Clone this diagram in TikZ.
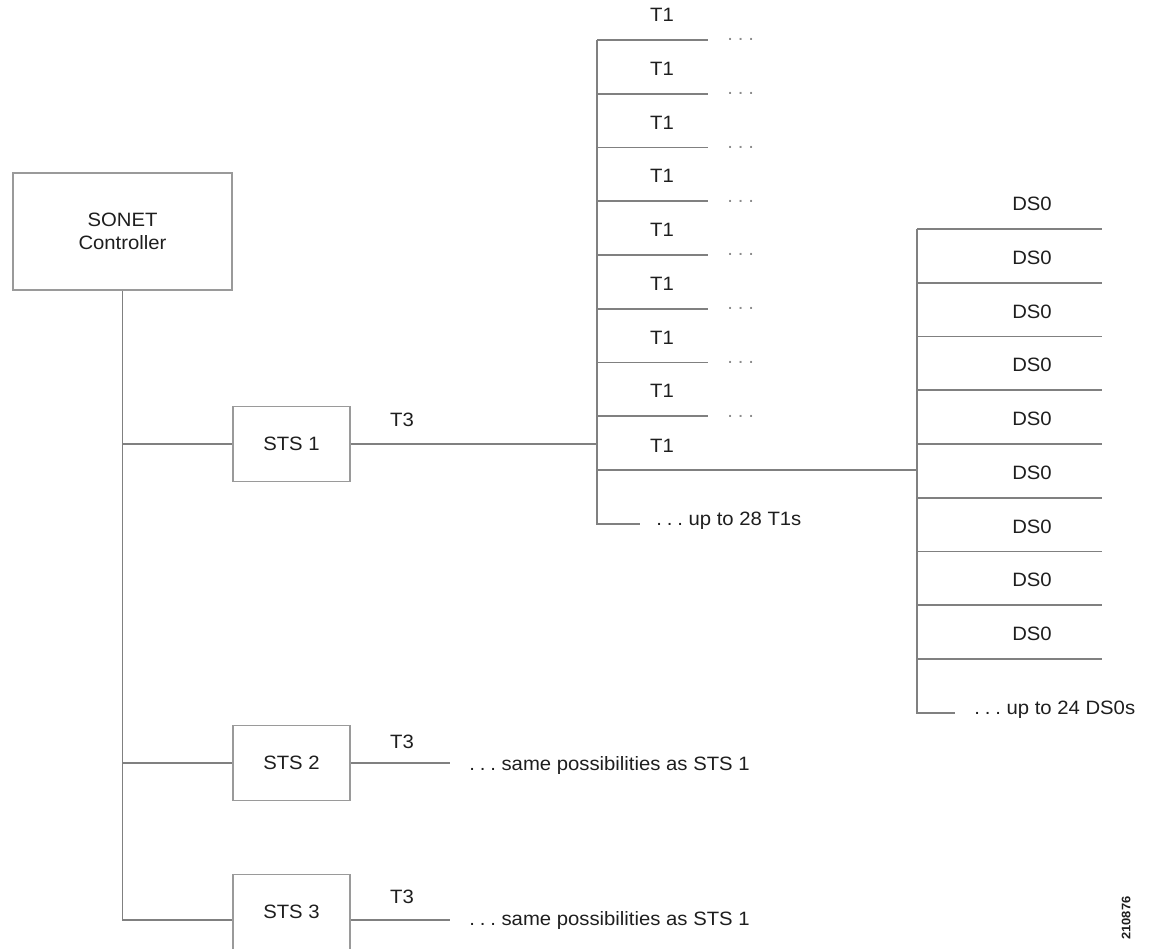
\documentclass[tikz,border=0pt]{standalone}
\usepackage{fontspec}
\setmainfont{Liberation Sans}[FakeStretch=1.05]
\usepackage{tikz}
\usetikzlibrary{positioning,calc}
\definecolor{wiregray}{HTML}{808080}
\definecolor{boxgray}{HTML}{9A9A9A}
\definecolor{txtgray}{HTML}{1E1E1E}
\definecolor{dotgray}{HTML}{8C8C8C}
\newcommand{\spdots}{.\kern0.25em.\kern0.25em.}

\begin{document}
\begin{tikzpicture}[x=0.02cm, y=-0.02cm, box/.style={draw=boxgray, line width=1.1pt, minimum width=2.34cm, minimum height=1.5cm, align=center, text=txtgray, font=\fontsize{11}{13}\selectfont}, lbl/.style={text=txtgray, inner sep=0pt, font=\fontsize{11}{13}\selectfont}, dots/.style={text=dotgray, inner sep=0pt, font=\fontsize{11}{13}\selectfont}, wire/.style={draw=wiregray, line width=0.9pt}]
\useasboundingbox (0,0) rectangle (1152,949);
% controller and the three STS boxes
\node[box, minimum width=4.38cm, minimum height=2.34cm] (ctrl) at (122.5,231.5) {SONET\\Controller};
\node[box] (sts1) at (291.5,444) {STS 1};
\node[box] (sts2) at (291.5,763) {STS 2};
\node[box] (sts3) at (291.5,912) {STS 3};
\coordinate (m3) at (123,920);
\draw[wire] (ctrl.south) |- (sts3.west |- m3);
\draw[wire] (ctrl.south |- sts1.west) -- (sts1.west);
\draw[wire] (ctrl.south |- sts2.west) -- (sts2.west);
% T1 bus
\foreach \i [evaluate=\i as \y using 40+53.75*(\i-1)] in {1,...,8} {
  \coordinate (ta\i) at (597,\y);
  \coordinate (tb\i) at (708,\y);
  \draw[wire] (ta\i) -- (tb\i);
  \node[lbl] (tl\i) at (662,\y-25) {T1};
  \node[dots, anchor=base west] (td\i) at (727,\y+1) {\spdots};
}
\coordinate (ta9) at (597,470);
\node[lbl] (tl9) at (662,446) {T1};
\coordinate (ta10) at (597,524);
\coordinate (tb10) at (640,524);
\node[lbl, anchor=west] (tmore) at (656,521) {\spdots\ up to 28 T1s};
\draw[wire] (ta1) -- (ta10) -- (tb10);
\draw[wire] (sts1.east) -- (sts1.east -| ta1);
\node[lbl] (t3a) at (402,420) {T3};
% DS0 bus
\foreach \i [evaluate=\i as \y using 229+53.75*(\i-1)] in {1,...,9} {
  \coordinate (da\i) at (917,\y);
  \coordinate (db\i) at (1102,\y);
  \draw[wire] (da\i) -- (db\i);
  \node[lbl] (dl\i) at (1032,\y-25) {DS0};
}
\coordinate (da10) at (917,713);
\coordinate (db10) at (955,713);
\node[lbl, anchor=west] (dmore) at (974,710) {\spdots\ up to 24 DS0s};
\draw[wire] (da1) -- (da10) -- (db10);
\draw[wire] (ta9) -- (ta9 -| da1);
% STS 2 and STS 3
\coordinate (s2end) at (450,763);
\draw[wire] (sts2.east) -- (s2end);
\node[lbl] (t3b) at (402,742) {T3};
\node[lbl, anchor=west] (s2txt) at (469,765) {\spdots\ same possibilities as STS 1};
\coordinate (s3end) at (450,920);
\draw[wire] (sts3.east |- m3) -- (s3end);
\node[lbl] (t3c) at (402,897) {T3};
\node[lbl, anchor=west] (s3txt) at (469,920) {\spdots\ same possibilities as STS 1};
\node[rotate=90, text=txtgray, inner sep=0pt, font=\bfseries\fontsize{7}{8}\selectfont] (figno) at (1126,918) {210876};
\end{tikzpicture}
\end{document}
